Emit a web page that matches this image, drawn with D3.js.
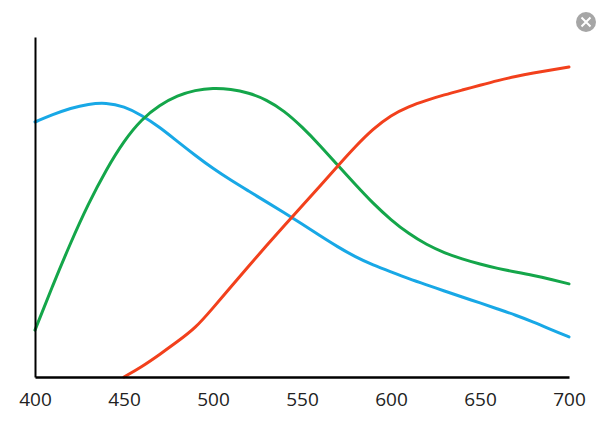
<!DOCTYPE html>
<meta charset="utf-8">
<html>
<head>
<title>Spectral curves</title>
<style>
    body { margin: 0; background: #fff; }
    .tick text { font-family: "Open Sans", sans-serif; font-size: 19px; fill: #222; }
    .curve { fill: none; stroke-width: 3px; stroke-linejoin: round; stroke-linecap: round; }
</style>
<script src="https://cdn.jsdelivr.net/npm/d3@7"></script>
</head>
<body>
<script>

    // wavelengths (nm) and relative response
    var wavelengths = [400,410,420,430,440,450,460,470,480,490,500,510,520,530,540,550,
                       560,570,580,590,600,610,620,630,640,650,660,670,680,690,700];
    var blueValues  = [75.0,77.2,79.1,80.3,80.7,79.6,77.0,73.5,69.3,65.2,61.3,57.9,54.7,51.5,48.3,45.0,
                       41.6,38.3,35.3,32.9,30.9,28.9,27.1,25.3,23.5,21.8,20.0,18.2,16.2,13.9,11.8];
    var greenValues = [13.8,27.0,39.5,51.0,61.0,69.5,75.9,80.0,82.8,84.4,85.0,84.7,83.6,81.6,78.3,73.6,
                       68.2,62.3,56.6,51.0,46.2,42.1,38.9,36.5,34.7,33.2,31.9,30.9,29.9,28.7,27.4];
    // red starts at 450
    var redValues   = [null,null,null,null,null,0,3.0,6.6,10.4,14.3,20.3,26.5,32.6,38.6,44.5,50.3,
                       56.1,62.0,67.8,73.0,77.0,79.6,81.4,83.0,84.4,85.8,87.2,88.4,89.4,90.3,91.2];
    var tickLabels = [400,450,500,550,600,650,700];

    var width = 610, height = 439;

    var x = d3.scaleLinear().domain([400, 700]).range([35, 569]);
    var y = d3.scaleLinear().domain([0, 100]).range([377, 37]);

    var svg = d3.select("body").append("svg")
        .attr("width", width)
        .attr("height", height);

    var series = [
        {values: blueValues,  color: "#18a8e6"},
        {values: greenValues, color: "#14a64a"},
        {values: redValues,   color: "#f2401c"}
    ];

    var line = d3.line()
        .defined(function(d) { return d[1] != null; })
        .x(function(d) { return x(d[0]); })
        .y(function(d) { return y(d[1]); })
        .curve(d3.curveBasis);

    svg.selectAll("path.curve")
      .data(series)
      .enter().append("path")
      .attr("class", "curve")
      .attr("d", function(s) { return line(wavelengths.map(function(w, i) { return [w, s.values[i]]; })); })
      .style("stroke", function(s) { return s.color; });

    // x axis: plain line plus labels
    var xAxis = svg.append("g")
        .attr("transform", "translate(0," + y(0) + ")")
        .call(d3.axisBottom(x).tickValues(tickLabels).tickSize(0).tickSizeOuter(0).tickPadding(16));
    xAxis.select(".domain").attr("stroke", "#000").attr("stroke-width", 2.5);

    // y axis: just the line
    var yAxis = svg.append("g")
        .attr("transform", "translate(" + x(400) + ",0)")
        .call(d3.axisLeft(y).tickValues([]).tickSizeOuter(0));
    yAxis.select(".domain").attr("stroke", "#000").attr("stroke-width", 2);

    // close button in the corner
    var btn = svg.append("g").attr("transform", "translate(586,22)");
    btn.append("circle").attr("r", 10).attr("fill", "#a6a6a6");
    btn.append("path").attr("d", "M-4.5,-4.5L4.5,4.5M4.5,-4.5L-4.5,4.5")
        .attr("stroke", "#fff").attr("stroke-width", 2);

</script>
</body>
</html>
